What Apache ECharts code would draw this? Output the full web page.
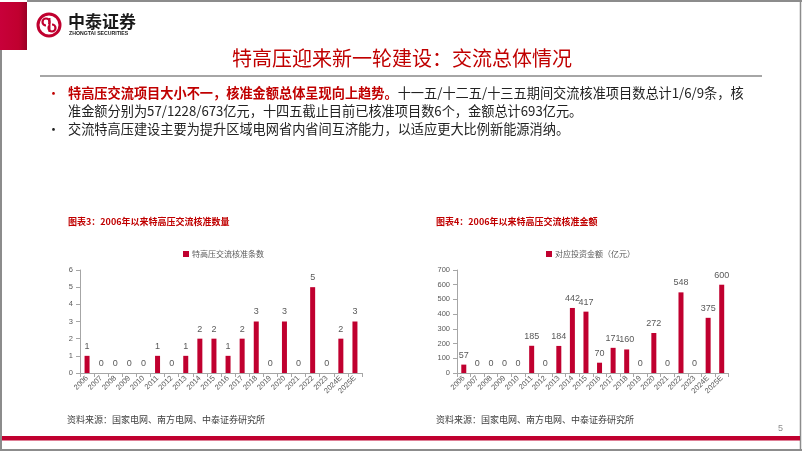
<!DOCTYPE html>
<html><head><meta charset="utf-8">
<script src="https://cdn.jsdelivr.net/npm/echarts@6/dist/echarts.min.js"></script>
<style>html,body{margin:0;padding:0;background:#fff}#c{width:802px;height:451px}</style>
</head><body><div id="c"></div>
<script>
const categories = ['2006','2007','2008','2009','2010','2011','2012','2013','2014','2015','2016','2017','2018','2019','2020','2021','2022','2023','2024E','2025E'];
const countValues = [1,0,0,0,0,1,0,1,2,2,1,2,3,0,3,0,5,0,2,3];
const amountValues = [57,0,0,0,0,185,0,184,442,417,70,171,160,0,272,0,548,0,375,600];
const countName = '特高压交流核准条数';
const amountName = '对应投资金额（亿元）';
const countTicks = {min:0,max:6,interval:1};
const amountTicks = {min:0,max:700,interval:100};

const RED = '#C0002F';
const TXT = '#595959';
const AX = '#A6A6A6';
const FONT = '"Noto Sans CJK SC","Noto Sans",sans-serif';

const chart = echarts.init(document.getElementById('c'), null, {renderer:'canvas'});

function xAx(gi){
  return {type:'category', gridIndex:gi, data:categories,
    axisLine:{lineStyle:{color:AX,width:1}},
    axisTick:{show:true,length:4,lineStyle:{color:AX}},
    axisLabel:{rotate:45,interval:0,fontSize:7.5,color:TXT,fontFamily:'Liberation Sans, Arial',margin:4}};
}
function yAx(gi,t){
  return {type:'value', gridIndex:gi, min:t.min, max:t.max, interval:t.interval,
    axisLine:{show:true,lineStyle:{color:AX,width:1}},
    axisTick:{show:true,length:4,lineStyle:{color:AX}},
    splitLine:{show:false},
    axisLabel:{fontSize:7.5,color:TXT,fontFamily:'Liberation Sans, Arial',margin:7}};
}
function ser(name,gi,data){
  return {type:'bar', name:name, xAxisIndex:gi, yAxisIndex:gi, data:data, barWidth:5,
    itemStyle:{color:RED},
    label:{show:true,position:'top',distance:5,fontSize:9,color:TXT,fontFamily:'Liberation Sans, Arial'}};
}
function txt(x,y,text,opt){
  return Object.assign({type:'text',x:x,y:y,style:Object.assign({text:text,fontFamily:FONT,fill:'#222',fontSize:13.2,textVerticalAlign:'middle'},opt||{})});
}

const graphics = [
  {type:'line',shape:{x1:27,y1:1,x2:802,y2:1},style:{stroke:'#8c8c8c',lineWidth:2}},
  {type:'line',shape:{x1:800.5,y1:0,x2:800.5,y2:451},style:{stroke:'#8c8c8c',lineWidth:1.5}},
  {type:'line',shape:{x1:1,y1:50,x2:1,y2:451},style:{stroke:'#8c8c8c',lineWidth:2}},
  {type:'line',shape:{x1:0,y1:450,x2:802,y2:450},style:{stroke:'#8c8c8c',lineWidth:2}},
  {type:'rect',shape:{x:0,y:2,width:27,height:48},style:{fill:new echarts.graphic.LinearGradient(0,0,1,0,[{offset:0,color:'#C8003A'},{offset:0.7,color:'#C0002F'},{offset:1,color:'#9A0025'}])}},
  {type:'circle',shape:{cx:49,cy:25,r:11},style:{fill:'none',stroke:'#C0002F',lineWidth:3}},
  {type:'arc',shape:{cx:46,cy:22,r:3.5,startAngle:Math.PI*0.5,endAngle:Math.PI*2.2},style:{fill:'none',stroke:'#C0002F',lineWidth:2.2}},
  {type:'arc',shape:{cx:52,cy:28,r:3.5,startAngle:Math.PI*1.5,endAngle:Math.PI*3.2},style:{fill:'none',stroke:'#C0002F',lineWidth:2.2}},
  {type:'line',shape:{x1:49.5,y1:18,x2:49.5,y2:32},style:{stroke:'#C0002F',lineWidth:2}},
  txt(68,22,'中泰证券',{fontSize:17,fontWeight:'bold',fill:'#1a1a1a'}),
  txt(69,33.5,'ZHONGTAI SECURITIES',{fontSize:5.2,fontWeight:'bold',fill:'#1a1a1a',fontFamily:'Liberation Sans, Arial'}),
  txt(402,58,'特高压迎来新一轮建设：交流总体情况',{fontSize:20,fill:'#C00000',textAlign:'center'}),
  {type:'line',shape:{x1:40,y1:76,x2:762,y2:76},style:{stroke:'#A6A6A6',lineWidth:2}},
  txt(47,93,'•',{fontSize:13,fill:'#C00000'}),
  {type:'text',x:68,y:93,style:{text:'{r|特高压交流项目大小不一，核准金额总体呈现向上趋势。}{k|十一五/十二五/十三五期间交流核准项目数总计1/6/9条，核}',
    textVerticalAlign:'middle',
    rich:{r:{fontSize:13.2,fontWeight:'bold',fill:'#C00000',fontFamily:FONT},k:{fontSize:13.2,fill:'#222',fontFamily:FONT}}}},
  txt(68,111,'准金额分别为57/1228/673亿元，十四五截止目前已核准项目数6个，金额总计693亿元。'),
  txt(47,129,'•',{fontSize:13,fill:'#222'}),
  txt(68,129,'交流特高压建设主要为提升区域电网省内省间互济能力，以适应更大比例新能源消纳。'),
  txt(68,222,'图表3：2006年以来特高压交流核准数量',{fontSize:9,fontWeight:'bold',fill:'#C00000'}),
  txt(436,222,'图表4：2006年以来特高压交流核准金额',{fontSize:9,fontWeight:'bold',fill:'#C00000'}),
  txt(67,420,'资料来源：国家电网、南方电网、中泰证券研究所',{fontSize:9,fill:'#404040'}),
  txt(436,420,'资料来源：国家电网、南方电网、中泰证券研究所',{fontSize:9,fill:'#404040'}),
  {type:'rect',shape:{x:2,y:436,width:798,height:4.5},style:{fill:'#C0002F'}},
  txt(778,429,'5',{fontSize:9,fill:'#8c8c8c',fontFamily:'Liberation Sans, Arial'})
];

chart.setOption({
  animation:false,
  textStyle:{fontFamily:FONT},
  grid:[
    {left:80,right:440,top:270,bottom:78,containLabel:false},
    {left:457,right:73.5,top:270,bottom:78,containLabel:false}
  ],
  legend:[
    {data:[countName],left:178,top:245,itemWidth:6,itemHeight:6,icon:'rect',itemGap:4,textStyle:{fontSize:8,color:TXT,padding:[0,0,0,-2]}},
    {data:[amountName],left:541,top:245,itemWidth:6,itemHeight:6,icon:'rect',itemGap:4,textStyle:{fontSize:8,color:TXT,padding:[0,0,0,-2]}}
  ],
  xAxis:[xAx(0),xAx(1)],
  yAxis:[yAx(0,countTicks),yAx(1,amountTicks)],
  series:[ser(countName,0,countValues),ser(amountName,1,amountValues)],
  graphic:graphics
});
</script></body></html>
